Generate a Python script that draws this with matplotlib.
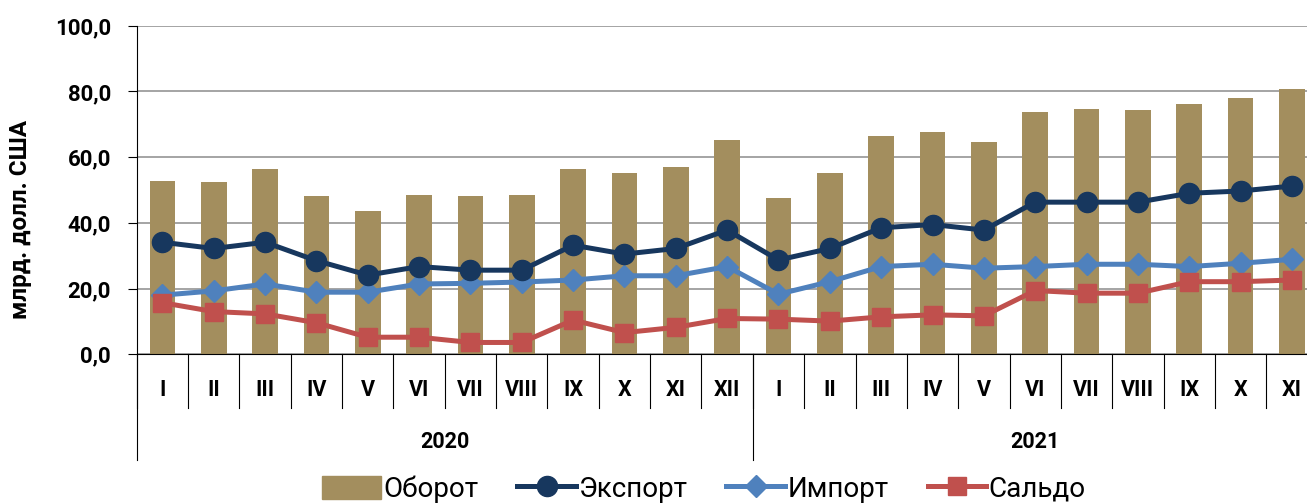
import matplotlib.pyplot as plt
import matplotlib.transforms as mtransforms
from matplotlib.lines import Line2D
from matplotlib.patches import Patch
import numpy as np

plt.rcParams['font.family'] = ['Roboto', 'DejaVu Sans']

# данные, млрд. долл. США
months = ['I', 'II', 'III', 'IV', 'V', 'VI', 'VII', 'VIII', 'IX', 'X', 'XI', 'XII',
          'I', 'II', 'III', 'IV', 'V', 'VI', 'VII', 'VIII', 'IX', 'X', 'XI']
years = ['2020', '2021']
year_len = [12, 11]
oborot = [52.7, 52.3, 56.3, 48.1, 43.7, 48.5, 48.1, 48.5, 56.5, 55.2, 57.1, 65.1,
          47.5, 55.1, 66.3, 67.6, 64.7, 73.6, 74.5, 74.2, 76.2, 78.0, 80.8]
eksport = [34.1, 32.2, 34.1, 28.5, 24.1, 26.7, 25.6, 25.6, 33.2, 30.5, 32.2, 37.8,
           28.7, 32.2, 38.5, 39.5, 37.8, 46.3, 46.3, 46.3, 49.0, 49.7, 51.2]
import_ = [18.0, 19.3, 21.4, 18.9, 18.9, 21.4, 21.6, 22.0, 22.6, 23.9, 23.9, 26.7,
           18.3, 22.1, 26.7, 27.4, 26.2, 26.7, 27.4, 27.4, 26.7, 27.7, 28.9]
saldo = [15.7, 13.0, 12.3, 9.6, 5.2, 5.2, 3.6, 3.6, 10.4, 6.6, 8.2, 10.9,
         10.7, 10.1, 11.4, 12.0, 11.7, 19.4, 18.6, 18.6, 22.1, 22.1, 22.6]

c_bar = '#A38E5E'
c_exp = '#17375E'
c_imp = '#4F81BD'
c_sal = '#C0504D'

W, H = 1307, 503
fig = plt.figure(figsize=(W / 100, H / 100), dpi=100)
ax = fig.add_axes([136.7 / W, 1 - 354.3 / H, (1317.6 - 136.7) / W, (354.3 - 25.7) / H])

x = np.arange(len(months)) + 0.5
ax.bar(x, oborot, width=0.5, color=c_bar, zorder=2)
ax.plot(x, eksport, color=c_exp, lw=3.6, marker='o', ms=14.5, zorder=4)
ax.plot(x, import_, color=c_imp, lw=3.6, marker='D', ms=11.5, zorder=3)
ax.plot(x, saldo, color=c_sal, lw=3.6, marker='s', ms=13.5, zorder=3)

ax.set_xlim(0, len(months))
ax.set_ylim(0, 100)
ax.set_yticks(np.arange(0, 101, 20))
ax.set_yticklabels([f'{v:.1f}'.replace('.', ',') for v in range(0, 101, 20)],
                   fontsize=16, fontweight='bold')
ax.tick_params(axis='y', length=6.5, width=0.8, pad=12)
ax.grid(axis='y', color='#8c8c8c', lw=1.1, zorder=0)
ax.set_xticks([])
for s in ['top', 'right']:
    ax.spines[s].set_visible(False)
ax.spines['left'].set_color('black')
ax.spines['bottom'].set_color('black')

# подписи месяцев и лет
trans = mtransforms.blended_transform_factory(ax.transData, ax.transAxes)
ph = 354.3 - 25.7
for i, m in enumerate(months):
    ax.text(i + 0.5, -(390 - 354.3) / ph, m, transform=trans, ha='center', va='center',
            fontsize=15.5, fontweight='bold')
    ax.plot([i, i], [0, -(408 - 354.3) / ph], transform=trans, color='black', lw=0.8,
            clip_on=False)
start = 0
for y, n in zip(years, year_len):
    ax.text(start + n / 2, -(442 - 354.3) / ph, y, transform=trans, ha='center',
            va='center', fontsize=15.5, fontweight='bold')
    ax.plot([start, start], [0, -(460 - 354.3) / ph], transform=trans, color='black',
            lw=0.8, clip_on=False)
    start += n

fig.text(21 / W, 1 - 219 / H, 'млрд. долл. США', rotation=90, ha='center', va='center',
         fontsize=17.5, fontweight='bold')

handles = [
    Patch(color=c_bar),
    Line2D([], [], color=c_exp, lw=3.6, marker='o', ms=14.5),
    Line2D([], [], color=c_imp, lw=3.6, marker='D', ms=11.5),
    Line2D([], [], color=c_sal, lw=3.6, marker='s', ms=13.5),
]
fig.legend(handles, ['Оборот', 'Экспорт', 'Импорт', 'Сальдо'], loc='center',
           bbox_to_anchor=(704 / W, 1 - 489 / H), ncol=4, frameon=False, fontsize=20,
           handlelength=2.1, handleheight=0.9, handletextpad=0.1, columnspacing=1.4)

fig.savefig('out.png', dpi=100)
